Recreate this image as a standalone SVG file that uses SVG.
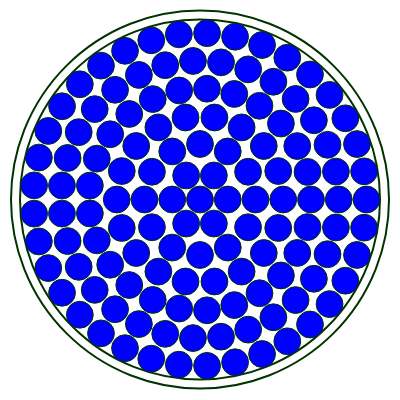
<svg xmlns="http://www.w3.org/2000/svg" width="400" height="400" viewBox="0 0 400 400">
<style>
.c{fill:#0000ff;stroke:#003300;stroke-width:1}
.ring{fill:none;stroke:#003300;stroke-width:2}
</style>
<rect width="400" height="400" fill="#ffffff"/>
<g id="container">
<circle class="ring" cx="200" cy="199.5" r="189"/>
<circle class="ring" cx="200" cy="199.5" r="180"/>
</g>
<g id="ring0">
<circle class="c" r="13.4" cx="200" cy="199.5"/>
</g>
<g id="ring1">
<circle class="c" r="13.4" cx="227.75" cy="199.5"/>
<circle class="c" r="13.4" cx="213.88" cy="175.47"/>
<circle class="c" r="13.4" cx="186.13" cy="175.47"/>
<circle class="c" r="13.4" cx="172.25" cy="199.5"/>
<circle class="c" r="13.4" cx="186.13" cy="223.53"/>
<circle class="c" r="13.4" cx="213.88" cy="223.53"/>
</g>
<g id="ring2">
<circle class="c" r="13.4" cx="255.5" cy="199.5"/>
<circle class="c" r="13.4" cx="248.06" cy="171.75"/>
<circle class="c" r="13.4" cx="227.75" cy="151.44"/>
<circle class="c" r="13.4" cx="200" cy="144"/>
<circle class="c" r="13.4" cx="172.25" cy="151.44"/>
<circle class="c" r="13.4" cx="151.94" cy="171.75"/>
<circle class="c" r="13.4" cx="144.5" cy="199.5"/>
<circle class="c" r="13.4" cx="151.94" cy="227.25"/>
<circle class="c" r="13.4" cx="172.25" cy="247.56"/>
<circle class="c" r="13.4" cx="200" cy="255"/>
<circle class="c" r="13.4" cx="227.75" cy="247.56"/>
<circle class="c" r="13.4" cx="248.06" cy="227.25"/>
</g>
<g id="ring3">
<circle class="c" r="13.4" cx="283.25" cy="199.5"/>
<circle class="c" r="13.4" cx="278.23" cy="171.03"/>
<circle class="c" r="13.4" cx="263.77" cy="145.99"/>
<circle class="c" r="13.4" cx="241.63" cy="127.4"/>
<circle class="c" r="13.4" cx="214.46" cy="117.51"/>
<circle class="c" r="13.4" cx="185.54" cy="117.51"/>
<circle class="c" r="13.4" cx="158.37" cy="127.4"/>
<circle class="c" r="13.4" cx="136.23" cy="145.99"/>
<circle class="c" r="13.4" cx="121.77" cy="171.03"/>
<circle class="c" r="13.4" cx="116.75" cy="199.5"/>
<circle class="c" r="13.4" cx="121.77" cy="227.97"/>
<circle class="c" r="13.4" cx="136.23" cy="253.01"/>
<circle class="c" r="13.4" cx="158.37" cy="271.6"/>
<circle class="c" r="13.4" cx="185.54" cy="281.49"/>
<circle class="c" r="13.4" cx="214.46" cy="281.49"/>
<circle class="c" r="13.4" cx="241.63" cy="271.6"/>
<circle class="c" r="13.4" cx="263.77" cy="253.01"/>
<circle class="c" r="13.4" cx="278.23" cy="227.97"/>
</g>
<g id="ring4">
<circle class="c" r="13.4" cx="311" cy="199.5"/>
<circle class="c" r="13.4" cx="307.51" cy="171.9"/>
<circle class="c" r="13.4" cx="297.27" cy="146.03"/>
<circle class="c" r="13.4" cx="280.92" cy="123.51"/>
<circle class="c" r="13.4" cx="259.48" cy="105.78"/>
<circle class="c" r="13.4" cx="234.3" cy="93.93"/>
<circle class="c" r="13.4" cx="206.97" cy="88.72"/>
<circle class="c" r="13.4" cx="179.2" cy="90.47"/>
<circle class="c" r="13.4" cx="152.74" cy="99.06"/>
<circle class="c" r="13.4" cx="129.25" cy="113.97"/>
<circle class="c" r="13.4" cx="110.2" cy="134.26"/>
<circle class="c" r="13.4" cx="96.79" cy="158.64"/>
<circle class="c" r="13.4" cx="89.88" cy="185.59"/>
<circle class="c" r="13.4" cx="89.88" cy="213.41"/>
<circle class="c" r="13.4" cx="96.79" cy="240.36"/>
<circle class="c" r="13.4" cx="110.2" cy="264.74"/>
<circle class="c" r="13.4" cx="129.25" cy="285.03"/>
<circle class="c" r="13.4" cx="152.74" cy="299.94"/>
<circle class="c" r="13.4" cx="179.2" cy="308.53"/>
<circle class="c" r="13.4" cx="206.97" cy="310.28"/>
<circle class="c" r="13.4" cx="234.3" cy="305.07"/>
<circle class="c" r="13.4" cx="259.48" cy="293.22"/>
<circle class="c" r="13.4" cx="280.92" cy="275.49"/>
<circle class="c" r="13.4" cx="297.27" cy="252.97"/>
<circle class="c" r="13.4" cx="307.51" cy="227.1"/>
</g>
<g id="ring5">
<circle class="c" r="13.4" cx="338.75" cy="199.5"/>
<circle class="c" r="13.4" cx="335.91" cy="171.57"/>
<circle class="c" r="13.4" cx="327.51" cy="144.78"/>
<circle class="c" r="13.4" cx="313.88" cy="120.24"/>
<circle class="c" r="13.4" cx="295.59" cy="98.93"/>
<circle class="c" r="13.4" cx="273.39" cy="81.75"/>
<circle class="c" r="13.4" cx="248.19" cy="69.38"/>
<circle class="c" r="13.4" cx="221.01" cy="62.35"/>
<circle class="c" r="13.4" cx="192.97" cy="60.93"/>
<circle class="c" r="13.4" cx="165.22" cy="65.18"/>
<circle class="c" r="13.4" cx="138.9" cy="74.93"/>
<circle class="c" r="13.4" cx="115.07" cy="89.78"/>
<circle class="c" r="13.4" cx="94.72" cy="109.12"/>
<circle class="c" r="13.4" cx="78.69" cy="132.16"/>
<circle class="c" r="13.4" cx="67.61" cy="157.96"/>
<circle class="c" r="13.4" cx="61.96" cy="185.46"/>
<circle class="c" r="13.4" cx="61.96" cy="213.54"/>
<circle class="c" r="13.4" cx="67.61" cy="241.04"/>
<circle class="c" r="13.4" cx="78.69" cy="266.84"/>
<circle class="c" r="13.4" cx="94.72" cy="289.88"/>
<circle class="c" r="13.4" cx="115.07" cy="309.22"/>
<circle class="c" r="13.4" cx="138.9" cy="324.07"/>
<circle class="c" r="13.4" cx="165.22" cy="333.82"/>
<circle class="c" r="13.4" cx="192.97" cy="338.07"/>
<circle class="c" r="13.4" cx="221.01" cy="336.65"/>
<circle class="c" r="13.4" cx="248.19" cy="329.62"/>
<circle class="c" r="13.4" cx="273.39" cy="317.25"/>
<circle class="c" r="13.4" cx="295.59" cy="300.07"/>
<circle class="c" r="13.4" cx="313.88" cy="278.76"/>
<circle class="c" r="13.4" cx="327.51" cy="254.22"/>
<circle class="c" r="13.4" cx="335.91" cy="227.43"/>
</g>
<g id="ring6">
<circle class="c" r="13.4" cx="366.5" cy="199.5"/>
<circle class="c" r="13.4" cx="364.11" cy="171.36"/>
<circle class="c" r="13.4" cx="356.99" cy="144.03"/>
<circle class="c" r="13.4" cx="345.36" cy="118.3"/>
<circle class="c" r="13.4" cx="329.54" cy="94.9"/>
<circle class="c" r="13.4" cx="310" cy="74.51"/>
<circle class="c" r="13.4" cx="287.3" cy="57.72"/>
<circle class="c" r="13.4" cx="262.08" cy="45"/>
<circle class="c" r="13.4" cx="235.08" cy="36.74"/>
<circle class="c" r="13.4" cx="207.07" cy="33.15"/>
<circle class="c" r="13.4" cx="178.85" cy="34.35"/>
<circle class="c" r="13.4" cx="151.25" cy="40.3"/>
<circle class="c" r="13.4" cx="125.04" cy="50.83"/>
<circle class="c" r="13.4" cx="100.99" cy="65.63"/>
<circle class="c" r="13.4" cx="79.83" cy="84.26"/>
<circle class="c" r="13.4" cx="62.06" cy="106.27"/>
<circle class="c" r="13.4" cx="48.28" cy="130.92"/>
<circle class="c" r="13.4" cx="38.87" cy="157.55"/>
<circle class="c" r="13.4" cx="34.1" cy="185.38"/>
<circle class="c" r="13.4" cx="34.1" cy="213.62"/>
<circle class="c" r="13.4" cx="38.87" cy="241.45"/>
<circle class="c" r="13.4" cx="48.28" cy="268.08"/>
<circle class="c" r="13.4" cx="62.06" cy="292.73"/>
<circle class="c" r="13.4" cx="79.83" cy="314.74"/>
<circle class="c" r="13.4" cx="100.99" cy="333.37"/>
<circle class="c" r="13.4" cx="125.04" cy="348.17"/>
<circle class="c" r="13.4" cx="151.25" cy="358.7"/>
<circle class="c" r="13.4" cx="178.85" cy="364.65"/>
<circle class="c" r="13.4" cx="207.07" cy="365.85"/>
<circle class="c" r="13.4" cx="235.08" cy="362.26"/>
<circle class="c" r="13.4" cx="262.08" cy="354"/>
<circle class="c" r="13.4" cx="287.3" cy="341.28"/>
<circle class="c" r="13.4" cx="310" cy="324.49"/>
<circle class="c" r="13.4" cx="329.54" cy="304.1"/>
<circle class="c" r="13.4" cx="345.36" cy="280.7"/>
<circle class="c" r="13.4" cx="356.99" cy="254.97"/>
<circle class="c" r="13.4" cx="364.11" cy="227.64"/>
</g>
</svg>
